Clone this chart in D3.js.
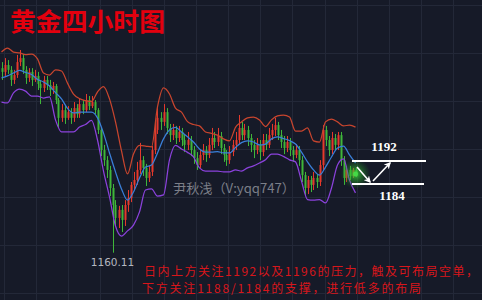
<!DOCTYPE html>
<html><head><meta charset="utf-8">
<script src="https://cdn.jsdelivr.net/npm/d3@7/dist/d3.min.js"></script>
<style>html,body{margin:0;padding:0;background:#161a28;}svg{display:block;}</style>
</head><body>
<svg id="c" width="482" height="300"></svg>
<script>
// ---- data (prices) ----
const opens = [1224.3,1223.0,1225.4,1223.7,1220.2,1221.9,1226.4,1227.8,1223.7,1220.9,
1223.0,1220.2,1221.6,1218.8,1217.4,1220.2,1218.4,1216.7,1218.1,1213.2,
1207.0,1209.7,1207.0,1209.0,1207.0,1210.4,1208.3,1211.8,1209.7,1213.2,
1211.1,1212.5,1209.7,1202.8,1195.8,1192.3,1188.9,1182.6,1176.7,1172.2,
1175.0,1171.5,1176.7,1179.1,1183.7,1185.4,1188.9,1192.3,1189.6,1186.1,
1188.2,1195.8,1202.8,1207.0,1205.6,1209.0,1203.5,1201.0,1202.8,1200.0,
1202.1,1199.3,1197.6,1199.3,1195.8,1193.0,1190.6,1194.1,1195.8,1194.1,
1197.6,1200.0,1198.6,1200.7,1196.5,1194.1,1192.3,1195.1,1197.6,1199.3,
1203.5,1201.0,1202.8,1200.0,1197.6,1195.8,1197.6,1195.1,1199.3,1197.6,
1201.0,1202.8,1204.5,1201.0,1198.6,1196.5,1198.6,1195.8,1194.1,1195.8,
1192.3,1187.1,1182.6,1185.4,1183.7,1186.1,1184.7,1190.6,1202.8,1199.3,
1195.8,1200.0,1197.6,1201.0,1192.3,1186.1,1188.9,1186.8,1188.9];
const closes = [1223.0,1225.4,1223.7,1220.2,1221.9,1226.4,1227.8,1223.7,1220.9,1223.0,
1220.2,1221.6,1218.8,1217.4,1220.2,1218.4,1216.7,1218.1,1213.2,1207.0,
1209.7,1207.0,1209.0,1207.0,1210.4,1208.3,1211.8,1209.7,1213.2,1211.1,
1212.5,1209.7,1202.8,1195.8,1192.3,1188.9,1182.6,1176.7,1172.2,1175.0,
1171.5,1176.7,1179.1,1183.7,1185.4,1188.9,1192.3,1189.6,1186.1,1188.2,
1195.8,1202.8,1207.0,1205.6,1209.0,1203.5,1201.0,1202.8,1200.0,1202.1,
1199.3,1197.6,1199.3,1195.8,1193.0,1190.6,1194.1,1195.8,1194.1,1197.6,
1200.0,1198.6,1200.7,1196.5,1194.1,1192.3,1195.1,1197.6,1199.3,1203.5,
1201.0,1202.8,1200.0,1197.6,1195.8,1197.6,1195.1,1199.3,1197.6,1201.0,
1202.8,1204.5,1201.0,1198.6,1196.5,1198.6,1195.8,1194.1,1195.8,1192.3,
1187.1,1182.6,1185.4,1183.7,1186.1,1184.7,1190.6,1202.8,1199.3,1195.8,
1200.0,1197.6,1201.0,1192.3,1186.1,1188.9,1186.8,1188.9,1187.5];
const highs = [1226.4,1227.8,1227.1,1225.0,1223.7,1228.9,1230.6,1229.2,1225.0,1224.3,
1224.3,1223.7,1223.0,1220.2,1221.6,1221.6,1220.2,1219.5,1218.8,1213.9,
1211.8,1211.1,1211.1,1210.4,1212.5,1211.8,1213.9,1213.2,1215.3,1214.6,
1214.6,1213.2,1210.4,1203.5,1197.6,1193.7,1190.3,1184.0,1178.4,1176.4,
1176.7,1178.4,1181.9,1184.7,1188.2,1191.7,1198.3,1193.7,1191.0,1190.3,
1197.2,1205.6,1210.4,1209.0,1211.8,1210.4,1204.9,1204.9,1204.2,1204.2,
1203.5,1201.4,1202.1,1200.7,1197.2,1195.1,1195.8,1197.9,1197.2,1200.0,
1203.5,1202.1,1203.5,1202.1,1197.9,1195.8,1197.2,1199.3,1202.1,1208.0,
1205.6,1204.9,1204.2,1201.4,1199.3,1200.0,1199.3,1201.4,1201.4,1203.5,
1204.9,1207.0,1205.6,1202.8,1200.7,1200.7,1200.0,1197.2,1197.9,1197.2,
1193.7,1188.2,1186.8,1186.8,1188.2,1187.5,1192.3,1204.5,1204.2,1200.7,
1202.1,1201.4,1202.1,1202.1,1193.7,1190.3,1190.3,1189.6,1189.6];
const lows = [1220.2,1221.6,1222.3,1218.1,1218.8,1220.9,1225.0,1222.3,1218.8,1219.5,
1218.1,1219.5,1216.7,1211.8,1216.0,1216.7,1214.6,1215.3,1211.8,1203.5,
1205.6,1204.9,1206.3,1204.9,1205.6,1207.0,1207.0,1208.3,1209.0,1209.7,
1210.4,1208.3,1201.4,1193.7,1190.3,1186.1,1179.8,1160.11,1169.4,1168.7,
1167.3,1169.4,1174.3,1177.7,1181.9,1183.7,1187.5,1186.8,1183.3,1184.7,
1186.8,1194.4,1201.4,1202.8,1204.2,1201.4,1198.6,1199.3,1197.9,1198.6,
1197.2,1195.1,1195.8,1193.7,1191.0,1188.9,1189.6,1192.3,1191.7,1193.0,
1195.8,1196.5,1197.2,1194.4,1191.7,1190.3,1191.0,1193.7,1195.8,1197.9,
1199.3,1199.3,1197.2,1195.1,1193.0,1194.4,1192.3,1193.7,1195.8,1196.5,
1199.3,1200.7,1199.3,1196.5,1194.4,1195.1,1193.7,1191.7,1193.0,1190.3,
1184.7,1180.2,1180.5,1181.2,1181.9,1182.6,1183.3,1188.9,1197.2,1193.7,
1194.4,1195.8,1195.8,1190.3,1183.7,1184.7,1185.4,1186.1,1186.4];
// Bollinger bands, one reading every 2 bars
const bandUpper = [1229.9,1231.3,1229.9,1229.6,1229.0,1229.2,1227.5,1222.6,1221.9,1223.7,
1223.3,1219.1,1215.3,1213.7,1213.0,1212.7,1216.0,1217.9,1213.6,1205.6,
1195.5,1187.5,1194.4,1197.4,1197.2,1196.9,1210.8,1217.4,1215.3,1210.4,
1209.0,1205.7,1204.7,1204.2,1202.1,1201.6,1201.0,1199.7,1199.0,1203.7,
1205.6,1207.0,1207.3,1206.3,1204.0,1206.3,1207.7,1208.0,1207.3,1202.4,
1202.4,1203.5,1199.0,1198.6,1205.6,1206.6,1205.6,1204.2,1204.5,1203.8];
const bandMid = [1220.9,1221.6,1222.6,1223.5,1222.8,1222.1,1220.4,1219.5,1218.1,1215.8,
1213.6,1210.3,1208.7,1209.0,1209.0,1209.0,1207.0,1201.7,1194.8,1188.2,
1182.3,1178.4,1181.2,1186.1,1189.9,1190.6,1194.8,1199.7,1202.8,1203.7,
1202.1,1200.4,1198.6,1196.2,1195.1,1195.1,1195.3,1194.8,1194.8,1196.7,
1198.4,1199.0,1198.6,1197.6,1197.9,1199.7,1200.4,1199.8,1199.1,1197.9,
1195.1,1191.7,1188.9,1187.1,1189.9,1193.4,1196.5,1197.2,1194.1,1191.3];
const bandLower = [1212.5,1212.2,1215.7,1217.0,1216.3,1214.6,1214.6,1213.9,1214.3,1206.3,
1202.1,1202.1,1202.1,1203.8,1204.7,1206.1,1199.3,1188.5,1179.5,1169.4,
1165.9,1167.7,1169.7,1174.3,1181.9,1182.3,1179.8,1180.2,1192.4,1197.4,
1196.2,1195.0,1193.4,1189.6,1188.5,1188.5,1188.5,1188.2,1188.2,1188.9,
1188.5,1189.6,1190.3,1191.3,1192.4,1194.4,1194.4,1193.6,1192.4,1191.7,
1185.0,1178.6,1178.4,1178.6,1177.4,1182.6,1190.6,1192.7,1185.4,1180.9];
const levels = [1192, 1184];
const lowLabel = "1160.11";
const title = "黄金四小时图";
const watermark = "尹秋浅（V:yqq747）";
const note1 = "日内上方关注1192以及1196的压力，触及可布局空单，";
const note2 = "下方关注1188/1184的支撑，进行低多的布局";

// ---- drawing ----
const W = 482, H = 300;
const svg = d3.select("#c");
const N = closes.length;
const x = d3.scaleLinear().domain([0, N - 1]).range([1.5, 355.5]);
const y = d3.scaleLinear().domain([1184, 1192]).range([184, 161]);

svg.append("rect").attr("width", W).attr("height", H).attr("fill", "#161a28");

// grid
const g = svg.append("g").attr("stroke", "#232838").attr("stroke-width", 1);
d3.range(15).forEach(k => {
  const gx = Math.round(3.5 + 32.1 * k) + 0.5;
  g.append("line").attr("x1", gx).attr("x2", gx).attr("y1", 0).attr("y2", H);
});
d3.range(7).forEach(k => {
  const gy = 5 + 48 * k + 0.5;
  g.append("line").attr("x1", 0).attr("x2", W).attr("y1", gy).attr("y2", gy);
});

// candles
const bars = d3.range(N).map(i => ({i, o: opens[i], c: closes[i], h: highs[i], l: lows[i]}));
const up = "#e5392c", dn = "#3fb63a";
const cg = svg.append("g");
cg.selectAll("line.w").data(bars).join("line")
  .attr("x1", d => Math.round(x(d.i)) + 0.5).attr("x2", d => Math.round(x(d.i)) + 0.5)
  .attr("y1", d => y(d.h)).attr("y2", d => y(d.l))
  .attr("stroke", d => d.c > d.o ? up : dn).attr("stroke-width", 1);
cg.selectAll("rect.b").data(bars).join("rect")
  .attr("x", d => Math.round(x(d.i)) - 0.5).attr("width", 2)
  .attr("y", d => y(Math.max(d.o, d.c)))
  .attr("height", d => Math.max(1, Math.abs(y(d.o) - y(d.c))))
  .attr("fill", d => d.c > d.o ? up : dn);

// bands
const line = d3.line().x((d, k) => x(k * 2)).y(d => y(d)).curve(d3.curveMonotoneX);
[[bandUpper, "#c8452e"], [bandMid, "#3a7fd9"], [bandLower, "#8b42dc"]].forEach(([arr, col]) => {
  svg.append("path").attr("d", line(arr)).attr("fill", "none")
    .attr("stroke", col).attr("stroke-width", 1.25);
});

// last price glow
const defs = svg.append("defs");
const rg = defs.append("radialGradient").attr("id", "glow");
rg.append("stop").attr("offset", "0%").attr("stop-color", "#3ee03e").attr("stop-opacity", 0.85);
rg.append("stop").attr("offset", "45%").attr("stop-color", "#2cb82c").attr("stop-opacity", 0.45);
rg.append("stop").attr("offset", "100%").attr("stop-color", "#1e8a1e").attr("stop-opacity", 0);
const lastX = x(N - 1), lastY = y(closes[N - 1]);
svg.append("circle").attr("cx", lastX).attr("cy", lastY).attr("r", 15).attr("fill", "url(#glow)");
svg.append("circle").attr("cx", lastX).attr("cy", lastY).attr("r", 2.5).attr("fill", "#46d946");

// level lines & arrows
defs.append("marker").attr("id", "ah").attr("viewBox", "0 0 10 10").attr("refX", 8).attr("refY", 5)
  .attr("markerWidth", 7).attr("markerHeight", 7).attr("orient", "auto-start-reverse")
  .attr("markerUnits", "userSpaceOnUse")
  .append("path").attr("d", "M0,0 L10,5 L0,10 L3,5 Z").attr("fill", "#fff");
svg.append("line").attr("x1", 352).attr("x2", 426).attr("y1", y(levels[0])).attr("y2", y(levels[0]))
  .attr("stroke", "#fff").attr("stroke-width", 2);
svg.append("line").attr("x1", 352).attr("x2", 424).attr("y1", y(levels[1])).attr("y2", y(levels[1]))
  .attr("stroke", "#fff").attr("stroke-width", 2);
svg.append("line").attr("x1", 357).attr("y1", 167).attr("x2", 370).attr("y2", 182)
  .attr("stroke", "#fff").attr("stroke-width", 1.6).attr("marker-end", "url(#ah)");
svg.append("line").attr("x1", 373).attr("y1", 181).attr("x2", 390).attr("y2", 163)
  .attr("stroke", "#fff").attr("stroke-width", 1.6).attr("marker-end", "url(#ah)");
svg.append("text").attr("x", 384).attr("y", 151).attr("text-anchor", "middle")
  .attr("font-family", "Liberation Serif, serif").attr("font-weight", "bold").attr("font-size", 13)
  .attr("fill", "#fff").text(levels[0]);
svg.append("text").attr("x", 392).attr("y", 200).attr("text-anchor", "middle")
  .attr("font-family", "Liberation Serif, serif").attr("font-weight", "bold").attr("font-size", 13)
  .attr("fill", "#fff").text(levels[1]);

// low label
svg.append("text").attr("x", x(37)).attr("y", 266).attr("text-anchor", "middle")
  .attr("font-family", "DejaVu Sans, sans-serif").attr("font-size", 10.5).attr("fill", "#b4b7c0")
  .text(lowLabel);

// watermark
svg.append("text").attr("x", 173).attr("y", 193).attr("textLength", 122).attr("lengthAdjust", "spacingAndGlyphs")
  .attr("font-family", "Noto Sans CJK SC, sans-serif").attr("font-size", 13).attr("fill", "#7c7f88")
  .text(watermark);

// title
svg.append("text").attr("x", 10).attr("y", 31).attr("textLength", 155).attr("lengthAdjust", "spacingAndGlyphs")
  .attr("font-family", "Noto Sans CJK SC, sans-serif").attr("font-weight", 700).attr("font-size", 25)
  .attr("fill", "#e3000e").text(title);

// notes
svg.append("text").attr("x", 144).attr("y", 276).attr("textLength", 334).attr("lengthAdjust", "spacing")
  .attr("font-family", "Noto Sans CJK SC, sans-serif").attr("font-size", 12).attr("fill", "#d8161b")
  .text(note1);
svg.append("text").attr("x", 142).attr("y", 292.5).attr("textLength", 279).attr("lengthAdjust", "spacing")
  .attr("font-family", "Noto Sans CJK SC, sans-serif").attr("font-size", 12).attr("fill", "#d8161b")
  .text(note2);
</script>
</body></html>
